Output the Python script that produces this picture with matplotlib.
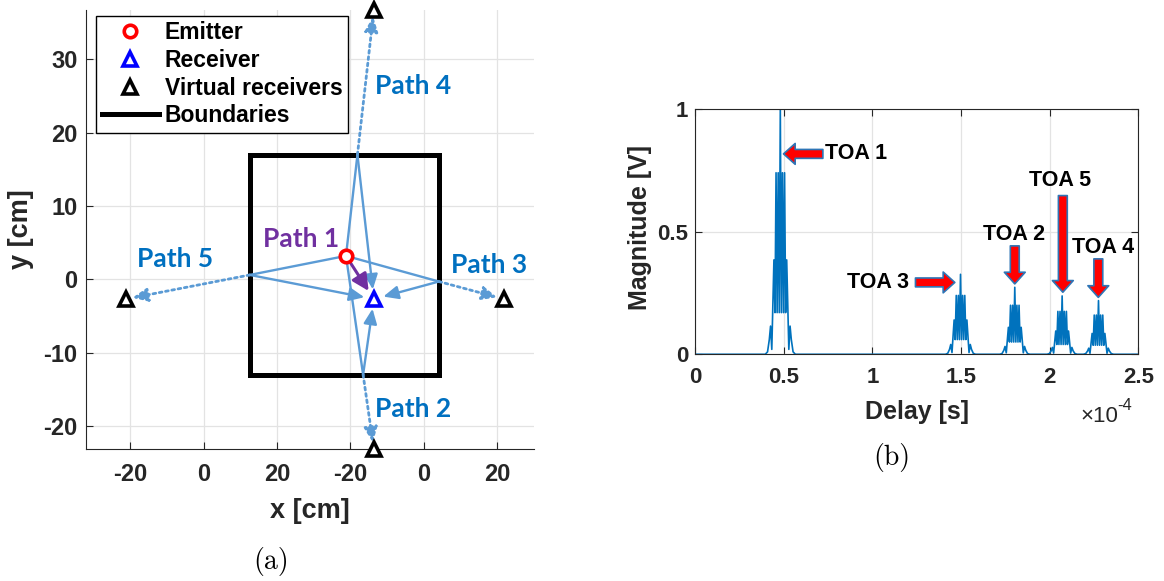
import matplotlib
matplotlib.use('Agg')
import matplotlib.pyplot as plt
from matplotlib.lines import Line2D

plt.rcParams['font.family'] = ['Liberation Sans', 'DejaVu Sans']
plt.rcParams['font.weight'] = 'bold'
plt.rcParams['axes.labelweight'] = 'bold'
plt.rcParams['axes.unicode_minus'] = False

W, H = 1164, 581

# ---------------- (a) geometry [cm]
emitter = (4.4, 3.2)
receiver = (8.2, -2.7)
room_x = [-8.7, 17.05, 17.05, -8.7, -8.7]
room_y = [17.0, 17.0, -13.0, -13.0, 17.0]

path_names = ['Path 2', 'Path 3', 'Path 4', 'Path 5']
virt_x = [8.2, 25.9, 8.2, -25.6]
virt_y = [-23.2, -2.7, 36.8, -2.7]
refl_x = [6.73, 17.05, 5.96, -8.7]
refl_y = [-13.0, -0.3, 17.0, 0.6]
label_x = [8.3, 18.65, 8.3, -24.0]
label_y = [-17.7, 1.95, 26.4, 2.73]

xtick_pos = [-25, -15, -5, 5, 15, 25]
xtick_lab = ['-20', '0', '20', '-20', '0', '20']
ytick_pos = [-20, -10, 0, 10, 20, 30]

# ---------------- (b) impulse response, delay in 1e-4 s
p1_t = [0.396, 0.409, 0.419, 0.426, 0.433, 0.445, 0.451, 0.457, 0.463, 0.469, 0.475, 0.481,
        0.487, 0.493, 0.499, 0.505, 0.511, 0.517, 0.529, 0.536, 0.543, 0.553, 0.566]
p1_v = [0, 0.01, 0.06, 0.115, 0.02, 0.385, 0.17, 0.74, 0.17, 0.74, 0.17, 1.0,
        0.17, 0.74, 0.17, 0.74, 0.17, 0.385, 0.02, 0.115, 0.06, 0.01, 0]
p3_t = [1.412, 1.425, 1.435, 1.442, 1.449, 1.461, 1.467, 1.473, 1.479, 1.485, 1.491, 1.497,
        1.503, 1.509, 1.515, 1.521, 1.527, 1.533, 1.545, 1.552, 1.559, 1.569, 1.582]
p3_v = [0, 0.004, 0.02, 0.04, 0.007, 0.14, 0.06, 0.24, 0.06, 0.24, 0.06, 0.326,
        0.06, 0.24, 0.06, 0.24, 0.06, 0.14, 0.007, 0.04, 0.02, 0.004, 0]
p2_t = [1.718, 1.731, 1.741, 1.748, 1.755, 1.767, 1.773, 1.779, 1.785, 1.791, 1.797, 1.803,
        1.809, 1.815, 1.821, 1.827, 1.833, 1.839, 1.851, 1.858, 1.865, 1.875, 1.888]
p2_v = [0, 0.003, 0.016, 0.032, 0.006, 0.11, 0.05, 0.2, 0.05, 0.2, 0.05, 0.273,
        0.05, 0.2, 0.05, 0.2, 0.05, 0.11, 0.006, 0.032, 0.016, 0.003, 0]
p5_t = [1.985, 1.998, 2.008, 2.015, 2.022, 2.034, 2.040, 2.046, 2.052, 2.058, 2.064, 2.070,
        2.076, 2.082, 2.088, 2.094, 2.100, 2.106, 2.118, 2.125, 2.132, 2.142, 2.155]
p5_v = [0, 0.003, 0.014, 0.028, 0.005, 0.095, 0.04, 0.175, 0.04, 0.175, 0.04, 0.238,
        0.04, 0.175, 0.04, 0.175, 0.04, 0.095, 0.005, 0.028, 0.014, 0.003, 0]
p4_t = [2.190, 2.203, 2.213, 2.220, 2.227, 2.239, 2.245, 2.251, 2.257, 2.263, 2.269, 2.275,
        2.281, 2.287, 2.293, 2.299, 2.305, 2.311, 2.323, 2.330, 2.337, 2.347, 2.360]
p4_v = [0, 0.003, 0.013, 0.025, 0.004, 0.085, 0.037, 0.16, 0.037, 0.16, 0.037, 0.219,
        0.037, 0.16, 0.037, 0.16, 0.037, 0.085, 0.004, 0.025, 0.013, 0.003, 0]

toa_names = ['TOA 1', 'TOA 3', 'TOA 2', 'TOA 5', 'TOA 4']
toa_tip = [(0.499, 0.817), (1.465, 0.293), (1.803, 0.287), (2.074, 0.253), (2.274, 0.232)]
toa_tail = [(0.721, 0.817), (1.243, 0.293), (1.803, 0.442), (2.074, 0.647), (2.274, 0.389)]
toa_text = [(0.734, 0.817), (1.207, 0.293), (1.80, 0.49), (2.06, 0.708), (2.30, 0.436)]
toa_ha = ['left', 'right', 'center', 'center', 'center']

c_path = '#5B9BD5'
c_lab = '#0070C0'
c_purple = '#7030A0'
c_ax = '#262626'

fig = plt.figure(figsize=(W / 100, H / 100), dpi=100)

# ================= (a)
ax1 = fig.add_axes([86 / W, (H - 449) / H, 448 / W, 439 / H])
ax1.set_xlim(-31, 30)
ax1.set_ylim(-23.15, 36.75)
ax1.set_xticks(xtick_pos)
ax1.set_xticklabels(xtick_lab)
ax1.set_yticks(ytick_pos)
ax1.grid(True, color='#e3e3e3', lw=0.9)
ax1.set_axisbelow(True)
for s in ['top', 'right']:
    ax1.spines[s].set_visible(False)
for s in ['left', 'bottom']:
    ax1.spines[s].set_color(c_ax)
ax1.tick_params(direction='in', length=5, color=c_ax, labelcolor=c_ax, labelsize=17)
ax1.tick_params(axis='x', pad=10)
ax1.tick_params(axis='y', pad=6)

ax1.plot(room_x, room_y, color='k', lw=3.6, solid_joinstyle='miter', zorder=2)

head = '-|>,head_length=0.45,head_width=0.2'
for i in range(len(path_names)):
    ax1.plot([emitter[0], refl_x[i]], [emitter[1], refl_y[i]], color=c_path, lw=1.7, zorder=3)
    ax1.annotate('', xy=receiver, xytext=(refl_x[i], refl_y[i]),
                 arrowprops=dict(arrowstyle=head, color=c_path, lw=1.7, shrinkA=0, shrinkB=7,
                                 mutation_scale=20), zorder=3)
    ax1.annotate('', xy=(virt_x[i], virt_y[i]), xytext=(refl_x[i], refl_y[i]),
                 arrowprops=dict(arrowstyle=head, color=c_path, lw=2.0, linestyle=(0, (1, 1.3)),
                                 shrinkA=0, shrinkB=5, mutation_scale=20), zorder=3)
    ax1.text(label_x[i], label_y[i], path_names[i], color=c_lab, fontfamily='Lato',
             fontweight='bold', fontsize=19, ha='left', va='center')

ax1.annotate('', xy=receiver, xytext=emitter,
             arrowprops=dict(arrowstyle='-|>,head_length=0.5,head_width=0.25', color=c_purple,
                             lw=2.2, shrinkA=6, shrinkB=7, mutation_scale=20), zorder=4)
ax1.text(-6.84, 5.46, 'Path 1', color=c_purple, fontfamily='Lato', fontweight='bold',
         fontsize=19, ha='left', va='center')

ax1.plot(virt_x, virt_y, '^', mec='k', mfc='white', ms=10, mew=2.6, ls='none', clip_on=False, zorder=5)
ax1.plot(*receiver, '^', mec='blue', mfc='white', ms=10, mew=2.6, zorder=5)
ax1.plot(*emitter, 'o', mec='red', mfc='white', ms=9, mew=2.6, zorder=5)

ax1.set_xlabel('x [cm]', fontsize=19.5, color=c_ax, fontweight='bold')
ax1.xaxis.set_label_coords(0.5, -0.112)
ax1.set_ylabel('y [cm]', fontsize=19.5, color=c_ax, fontweight='bold')
ax1.yaxis.set_label_coords(-0.116, 0.5)

handles = [
    Line2D([], [], marker='o', ls='none', mec='red', mfc='white', ms=9, mew=2.6, label='Emitter'),
    Line2D([], [], marker='^', ls='none', mec='blue', mfc='white', ms=10, mew=2.6, label='Receiver'),
    Line2D([], [], marker='^', ls='none', mec='k', mfc='white', ms=10, mew=2.6, label='Virtual receivers'),
    Line2D([], [], color='k', lw=3.6, label='Boundaries'),
]
leg = ax1.legend(handles=handles, loc='upper left', bbox_to_anchor=(96 / W, 1 - 15.7 / H),
                 bbox_transform=fig.transFigure, borderaxespad=0, fancybox=False, edgecolor='k',
                 framealpha=1, fontsize=16.5, handlelength=2.5, handletextpad=0.25,
                 labelspacing=0.2, borderpad=0.25)
leg.get_frame().set_linewidth(1.0)

fig.text(271 / W, 1 - 562 / H, '(a)', fontfamily='cmr10', fontweight='normal', fontsize=20,
         ha='center', va='center')

# ================= (b)
ax2 = fig.add_axes([695 / W, (H - 354.3) / H, 443.4 / W, 245.3 / H])
t = [0] + p1_t + p3_t + p2_t + p5_t + p4_t + [2.5]
v = [0] + p1_v + p3_v + p2_v + p5_v + p4_v + [0]
ax2.plot(t, v, color='#0072BD', lw=1.2)
ax2.set_xlim(0, 2.5)
ax2.set_ylim(0, 1)
ax2.set_xticks([0, 0.5, 1, 1.5, 2, 2.5])
ax2.set_xticklabels(['0', '0.5', '1', '1.5', '2', '2.5'])
ax2.set_yticks([0, 0.5, 1])
ax2.set_yticklabels(['0', '0.5', '1'])
ax2.grid(True, color='#e3e3e3', lw=0.9)
ax2.set_axisbelow(True)
for s in ax2.spines.values():
    s.set_color(c_ax)
ax2.tick_params(direction='in', length=5, color=c_ax, labelcolor=c_ax, labelsize=16,
                top=True, right=True)
ax2.tick_params(axis='x', pad=9)
ax2.tick_params(axis='y', pad=5)
ax2.set_xlabel('Delay [s]', fontsize=18, color=c_ax, fontweight='bold')
ax2.xaxis.set_label_coords(0.5, -0.185)
ax2.set_ylabel('Magnitude [V]', fontsize=18, color=c_ax, fontweight='bold')
ax2.yaxis.set_label_coords(-0.097, 0.515)

for i in range(len(toa_names)):
    ax2.annotate('', xy=toa_tip[i], xytext=toa_tail[i],
                 arrowprops=dict(arrowstyle='simple,head_length=0.42,head_width=0.75,tail_width=0.32',
                                 fc='red', ec='#2E75B6', lw=1.2, shrinkA=0, shrinkB=0,
                                 mutation_scale=20))
    ax2.text(toa_text[i][0], toa_text[i][1], toa_names[i], fontsize=15.5, ha=toa_ha[i],
             va='center', color='k')

fig.text(1080 / W, 1 - 417 / H, '\u00d710', fontsize=16, fontweight='normal', color=c_ax,
         ha='left', va='center')
fig.text(1117 / W, 1 - 406 / H, '-4', fontsize=12, fontweight='normal', color=c_ax,
         ha='left', va='center')
fig.text(892 / W, 1 - 458 / H, '(b)', fontfamily='cmr10', fontweight='normal', fontsize=20,
         ha='center', va='center')

fig.savefig('out.png', dpi=100)
